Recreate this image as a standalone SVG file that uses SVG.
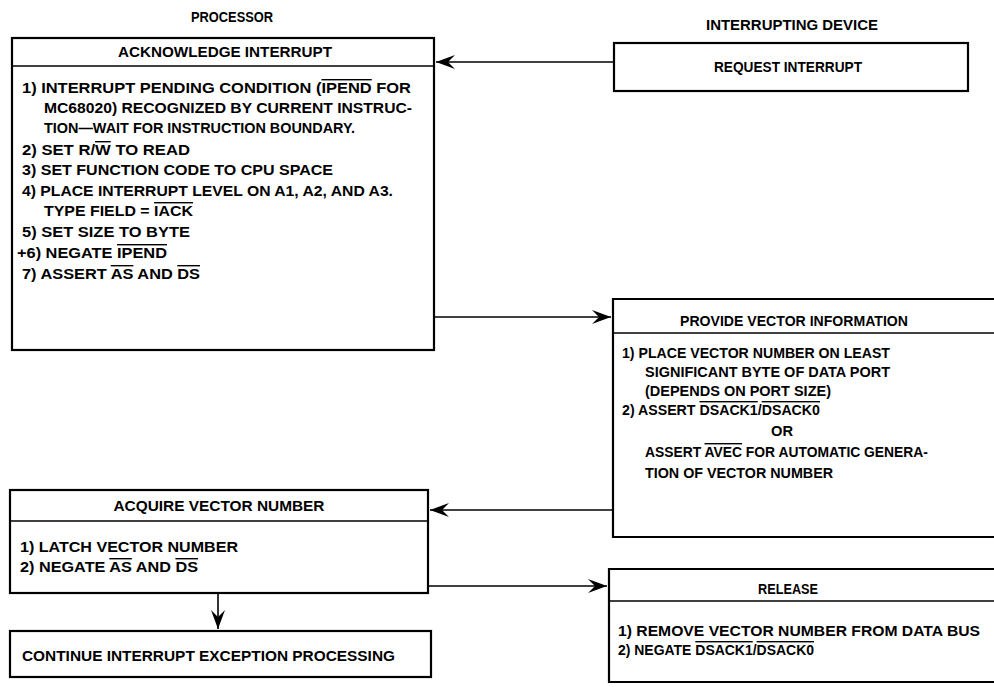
<svg xmlns="http://www.w3.org/2000/svg" width="994" height="687" viewBox="0 0 994 687">
<style>
text{font-family:"Liberation Sans",Arial,sans-serif;font-size:14px;font-weight:bold;fill:#000}
.c{text-anchor:middle}
.ov{text-decoration:overline}
.box{fill:none;stroke:#000;stroke-width:2.2}
.div{fill:none;stroke:#000;stroke-width:1.4}
.con{fill:none;stroke:#000;stroke-width:1.6}
</style>
<defs>
<marker id="ah" markerWidth="20" markerHeight="14" refX="19" refY="7" orient="auto" markerUnits="userSpaceOnUse" overflow="visible">
<path d="M0,0 L19,7 L0,14 L7,7 Z" fill="#000"/>
</marker>
</defs>
<rect width="994" height="687" fill="#fff"/>
<text class="c" x="232" y="22" textLength="82" lengthAdjust="spacingAndGlyphs">PROCESSOR</text>
<text class="c" x="792" y="30" textLength="172" lengthAdjust="spacingAndGlyphs">INTERRUPTING DEVICE</text>

<g id="ack">
<rect class="box" x="12" y="38" width="422" height="312"/>
<line class="div" x1="12" y1="66" x2="434" y2="66"/>
<text class="c" x="225" y="57" textLength="214" lengthAdjust="spacingAndGlyphs">ACKNOWLEDGE INTERRUPT</text>
<text x="22" y="93" textLength="389" lengthAdjust="spacingAndGlyphs">1)  INTERRUPT PENDING CONDITION (<tspan class="ov">IPEND</tspan> FOR</text>
<text x="44" y="113" textLength="368" lengthAdjust="spacingAndGlyphs">MC68020) RECOGNIZED BY CURRENT INSTRUC-</text>
<text x="44" y="133" textLength="311" lengthAdjust="spacingAndGlyphs">TION—WAIT FOR INSTRUCTION BOUNDARY.</text>
<text x="22" y="155" textLength="168" lengthAdjust="spacingAndGlyphs">2)  SET R/<tspan class="ov">W</tspan> TO READ</text>
<text x="22" y="175" textLength="311" lengthAdjust="spacingAndGlyphs">3)  SET FUNCTION CODE TO CPU SPACE</text>
<text x="22" y="196" textLength="371" lengthAdjust="spacingAndGlyphs">4)  PLACE INTERRUPT LEVEL ON A1, A2, AND A3.</text>
<text x="44" y="216" textLength="149" lengthAdjust="spacingAndGlyphs">TYPE FIELD = <tspan class="ov">IACK</tspan></text>
<text x="22" y="237" textLength="168" lengthAdjust="spacingAndGlyphs">5)  SET SIZE TO BYTE</text>
<text x="17" y="258" textLength="150" lengthAdjust="spacingAndGlyphs">+6)  NEGATE <tspan class="ov">IPEND</tspan></text>
<text x="22" y="279" textLength="178" lengthAdjust="spacingAndGlyphs">7)  ASSERT <tspan class="ov">AS</tspan> AND <tspan class="ov">DS</tspan></text>
</g>

<g id="request">
<rect class="box" x="614" y="43" width="354" height="48"/>
<text class="c" x="788" y="72" textLength="148" lengthAdjust="spacingAndGlyphs">REQUEST INTERRUPT</text>
</g>

<g id="provide">
<path class="box" d="M994,299 L613,299 L613,537 L994,537"/>
<line class="div" x1="613" y1="333" x2="994" y2="333"/>
<text class="c" x="794" y="326" textLength="228" lengthAdjust="spacingAndGlyphs">PROVIDE VECTOR INFORMATION</text>
<text x="622" y="358" textLength="268" lengthAdjust="spacingAndGlyphs">1)  PLACE VECTOR NUMBER ON LEAST</text>
<text x="645" y="377" textLength="245" lengthAdjust="spacingAndGlyphs">SIGNIFICANT BYTE  OF DATA PORT</text>
<text x="645" y="396" textLength="186" lengthAdjust="spacingAndGlyphs">(DEPENDS ON PORT SIZE)</text>
<text x="622" y="415" textLength="198" lengthAdjust="spacingAndGlyphs">2)  ASSERT <tspan class="ov">DSACK1</tspan>/<tspan class="ov">DSACK0</tspan></text>
<text class="c" x="782" y="436" textLength="22" lengthAdjust="spacingAndGlyphs">OR</text>
<text x="645" y="457" textLength="283" lengthAdjust="spacingAndGlyphs">ASSERT <tspan class="ov">AVEC</tspan> FOR AUTOMATIC GENERA-</text>
<text x="645" y="478" textLength="188" lengthAdjust="spacingAndGlyphs">TION OF VECTOR NUMBER</text>
</g>

<g id="acquire">
<rect class="box" x="10" y="490" width="418" height="103"/>
<line class="div" x1="10" y1="521" x2="428" y2="521"/>
<text class="c" x="219" y="511" textLength="211" lengthAdjust="spacingAndGlyphs">ACQUIRE VECTOR NUMBER</text>
<text x="20" y="552" textLength="218" lengthAdjust="spacingAndGlyphs">1)  LATCH VECTOR NUMBER</text>
<text x="20" y="572" textLength="178" lengthAdjust="spacingAndGlyphs">2)  NEGATE <tspan class="ov">AS</tspan> AND <tspan class="ov">DS</tspan></text>
</g>

<g id="continue">
<rect class="box" x="10" y="631" width="421" height="46"/>
<text x="22" y="661" textLength="373" lengthAdjust="spacingAndGlyphs">CONTINUE INTERRUPT EXCEPTION PROCESSING</text>
</g>

<g id="release">
<path class="box" d="M994,569 L609,569 L609,682 L994,682"/>
<line class="div" x1="609" y1="601" x2="994" y2="601"/>
<text class="c" x="788" y="594" textLength="60" lengthAdjust="spacingAndGlyphs">RELEASE</text>
<text x="618" y="636" textLength="362" lengthAdjust="spacingAndGlyphs">1)  REMOVE VECTOR NUMBER FROM DATA BUS</text>
<text x="618" y="655" textLength="196" lengthAdjust="spacingAndGlyphs">2)  NEGATE <tspan class="ov">DSACK1</tspan>/<tspan class="ov">DSACK0</tspan></text>
</g>

<g id="connectors">
<line class="con" x1="614" y1="62" x2="436" y2="62" marker-end="url(#ah)"/>
<line class="con" x1="434" y1="317" x2="611" y2="317" marker-end="url(#ah)"/>
<line class="con" x1="613" y1="510" x2="430" y2="510" marker-end="url(#ah)"/>
<line class="con" x1="428" y1="586" x2="607" y2="586" marker-end="url(#ah)"/>
<line class="con" x1="218" y1="593" x2="218" y2="629" marker-end="url(#ah)"/>
</g>
</svg>
